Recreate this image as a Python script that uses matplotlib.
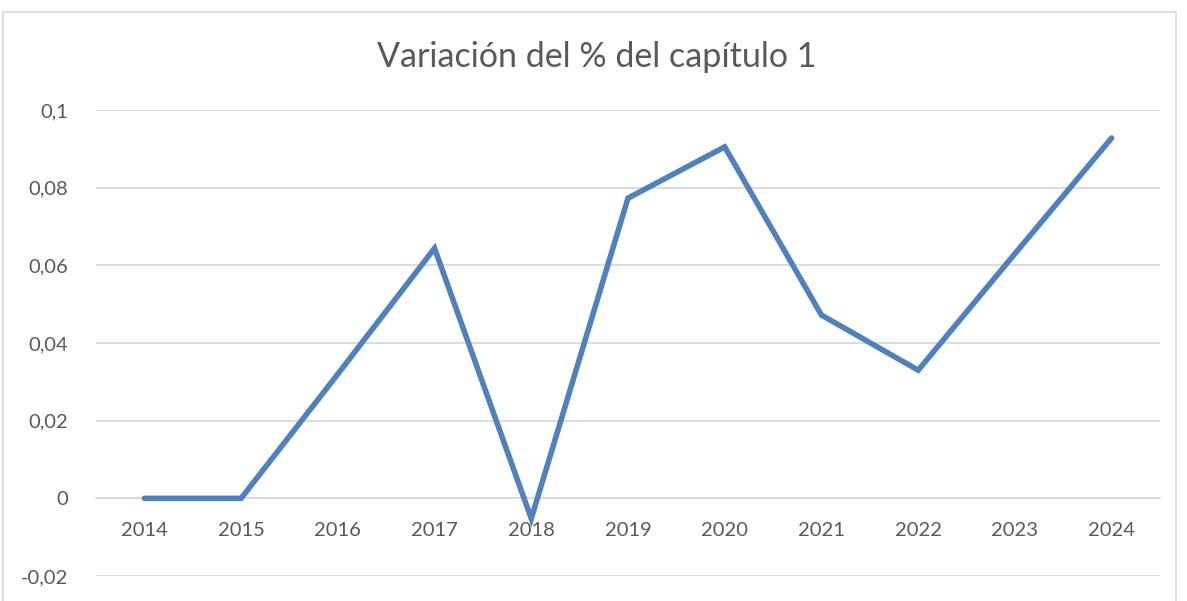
import matplotlib.pyplot as plt
from matplotlib.patches import Rectangle

# data
years = ['2014', '2015', '2016', '2017', '2018', '2019', '2020', '2021', '2022', '2023', '2024']
variacion = [0.0, 0.0, 0.032, 0.0644, -0.0052, 0.0773, 0.0905, 0.0472, 0.033, 0.063, 0.0928]
y_ticks = [-0.02, 0.0, 0.02, 0.04, 0.06, 0.08, 0.1]
y_labels = ['-0,02', '0', '0,02', '0,04', '0,06', '0,08', '0,1']

plt.rcParams['font.family'] = ['Lato', 'DejaVu Sans']

fig = plt.figure(figsize=(11.87, 6.01), dpi=100)
ax = fig.add_axes([96 / 1187, 25 / 601, (1160 - 96) / 1187, (576 - 110) / 601])

# chart frame
fig.patches.append(Rectangle((3 / 1187, -0.1), (1176 - 3) / 1187, (601 - 12) / 601 + 0.1,
                             transform=fig.transFigure, fill=False,
                             edgecolor='#D9D9D9', lw=1.2))

x = list(range(len(years)))
ax.plot(x, variacion, color='#4F81BD', lw=4.0, solid_capstyle='round',
        solid_joinstyle='miter', zorder=3)

ax.set_xlim(-0.5, len(years) - 0.5)
ax.set_ylim(-0.02, 0.1)
ax.set_yticks(y_ticks)
ax.set_yticklabels(y_labels)
ax.yaxis.grid(True, color='#D9D9D9', lw=1.3)
ax.set_axisbelow(True)

for s in ['top', 'right', 'left']:
    ax.spines[s].set_visible(False)
ax.spines['bottom'].set_position(('data', 0))
ax.spines['bottom'].set_color('#D9D9D9')
ax.spines['bottom'].set_linewidth(1.3)

ax.set_xticks(x)
ax.set_xticklabels(years)
ax.tick_params(axis='x', length=0, pad=17, labelsize=14.5, labelcolor='#595959')
ax.tick_params(axis='y', length=0, pad=20, labelsize=14.5, labelcolor='#595959')

fig.text(597 / 1187, 1 - 57 / 601, 'Variación del % del capítulo 1',
         ha='center', va='center', fontsize=24.5, color='#595959')

fig.savefig('out.png', dpi=100)
